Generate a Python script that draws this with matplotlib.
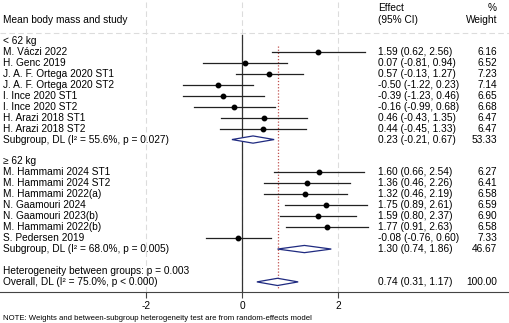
import matplotlib
matplotlib.use("Agg")
import matplotlib.pyplot as plt
from matplotlib.patches import Polygon

plt.rcParams['font.family'] = ['Liberation Sans', 'DejaVu Sans']

# ---- data ----
group1_label = "< 62 kg"
group1_studies = ["M. Váczi 2022", "H. Genc 2019", "J. A. F. Ortega 2020 ST1",
                  "J. A. F. Ortega 2020 ST2", "I. Ince 2020 ST1", "I. Ince 2020 ST2",
                  "H. Arazi 2018 ST1", "H. Arazi 2018 ST2"]
group1_es = [1.59, 0.07, 0.57, -0.50, -0.39, -0.16, 0.46, 0.44]
group1_lo = [0.62, -0.81, -0.13, -1.22, -1.23, -0.99, -0.43, -0.45]
group1_hi = [2.56, 0.94, 1.27, 0.23, 0.46, 0.68, 1.35, 1.33]
group1_w = ["6.16", "6.52", "7.23", "7.14", "6.65", "6.68", "6.47", "6.47"]
group1_sub = (0.23, -0.21, 0.67, "53.33", "Subgroup, DL (I² = 55.6%, p = 0.027)")

group2_label = "≥ 62 kg"
group2_studies = ["M. Hammami 2024 ST1", "M. Hammami 2024 ST2", "M. Hammami 2022(a)",
                  "N. Gaamouri 2024", "N. Gaamouri 2023(b)", "M. Hammami 2022(b)",
                  "S. Pedersen 2019"]
group2_es = [1.60, 1.36, 1.32, 1.75, 1.59, 1.77, -0.08]
group2_lo = [0.66, 0.46, 0.46, 0.89, 0.80, 0.91, -0.76]
group2_hi = [2.54, 2.26, 2.19, 2.61, 2.37, 2.63, 0.60]
group2_w = ["6.27", "6.41", "6.58", "6.59", "6.90", "6.58", "7.33"]
group2_sub = (1.30, 0.74, 1.86, "46.67", "Subgroup, DL (I² = 68.0%, p = 0.005)")

overall = (0.74, 0.31, 1.17, "100.00", "Overall, DL (I² = 75.0%, p < 0.000)")
het_text = "Heterogeneity between groups: p = 0.003"
xticks = [-2, 0, 2]
note = "NOTE: Weights and between-subgroup heterogeneity test are from random-effects model"

# ---- layout ----
W, H = 509, 323
fig = plt.figure(figsize=(W / 100, H / 100), dpi=100)
axis_px = 292
ax = fig.add_axes([0, (H - axis_px) / H, 1, axis_px / H])
px_per_unit = 48.0
x0px = 242.0
ax.set_xlim(-x0px / px_per_unit, (W - x0px) / px_per_unit)
row0, rowh = 41.0, 10.95
ax.set_ylim((axis_px - row0) / rowh, -row0 / rowh)

for s in ['left', 'right', 'top']:
    ax.spines[s].set_visible(False)
ax.spines['bottom'].set_color('#444444')
ax.spines['bottom'].set_linewidth(0.8)
ax.set_yticks([])
ax.set_xticks(xticks)
ax.set_xticklabels([str(t) for t in xticks])
ax.tick_params(axis='x', direction='out', length=4, width=0.8, pad=2.5, labelsize=7.3,
               color='#444444')

def px2row(p):
    return (p - row0) / rowh

fs = 7.3
xlab = (3 - x0px) / px_per_unit
xeff = (378 - x0px) / px_per_unit
xw = (497 - x0px) / px_per_unit

# grid lines
for t in xticks:
    ax.axvline(t, color='#dcdcdc', lw=0.8, ls=(0, (5, 3)), zorder=0)
ax.axhline(px2row(33), color='#dcdcdc', lw=0.8, ls=(0, (5, 3)), zorder=0)

# headers
ax.text(xlab, px2row(20), "Mean body mass and study", fontsize=fs, va='center', ha='left')
ax.text(xeff, px2row(8), "Effect", fontsize=fs, va='center', ha='left')
ax.text(xeff, px2row(20), "(95% CI)", fontsize=fs, va='center', ha='left')
ax.text(xw, px2row(8), "%", fontsize=fs, va='center', ha='right')
ax.text(xw, px2row(20), "Weight", fontsize=fs, va='center', ha='right')

# null line & overall line
ax.plot([0, 0], [px2row(35), px2row(axis_px)], color='#333333', lw=0.9, zorder=1)
ax.plot([overall[0], overall[0]], [px2row(46), px2row(288)], color='#c0504d',
        lw=0.9, ls=(0, (1, 1.5)), zorder=1)

def study_row(r, name, es, lo, hi, w):
    ax.text(xlab, r, name, fontsize=fs, va='center', ha='left')
    ax.plot([lo, hi], [r, r], color='#222222', lw=0.9, zorder=2)
    ax.plot([es], [r], marker='o', ms=3.2, color='black', zorder=3)
    ax.text(xeff, r, f"{es:.2f} ({lo:.2f}, {hi:.2f})", fontsize=fs, va='center', ha='left')
    ax.text(xw, r, w, fontsize=fs, va='center', ha='right')

def diamond_row(r, es, lo, hi, w, label):
    ax.text(xlab, r, label, fontsize=fs, va='center', ha='left')
    hh = 0.33
    ax.add_patch(Polygon([[lo, r], [es, r - hh], [hi, r], [es, r + hh]], closed=True,
                         facecolor='white', edgecolor='#1f2a80', lw=0.9, zorder=3))
    ax.text(xeff, r, f"{es:.2f} ({lo:.2f}, {hi:.2f})", fontsize=fs, va='center', ha='left')
    ax.text(xw, r, w, fontsize=fs, va='center', ha='right')

r = 0
ax.text(xlab, r, group1_label, fontsize=fs, va='center', ha='left')
r += 1
for i in range(len(group1_studies)):
    study_row(r, group1_studies[i], group1_es[i], group1_lo[i], group1_hi[i], group1_w[i])
    r += 1
diamond_row(r, group1_sub[0], group1_sub[1], group1_sub[2], group1_sub[3], group1_sub[4])
r += 2
ax.text(xlab, r, group2_label, fontsize=fs, va='center', ha='left')
r += 1
for i in range(len(group2_studies)):
    study_row(r, group2_studies[i], group2_es[i], group2_lo[i], group2_hi[i], group2_w[i])
    r += 1
diamond_row(r, group2_sub[0], group2_sub[1], group2_sub[2], group2_sub[3], group2_sub[4])
r += 2
ax.text(xlab, r, het_text, fontsize=fs, va='center', ha='left')
r += 1
diamond_row(r, overall[0], overall[1], overall[2], overall[3], overall[4])

fig.text(3 / W, (H - 319) / H, note, fontsize=5.6, va='center', ha='left')

fig.savefig("out.png", dpi=100)
